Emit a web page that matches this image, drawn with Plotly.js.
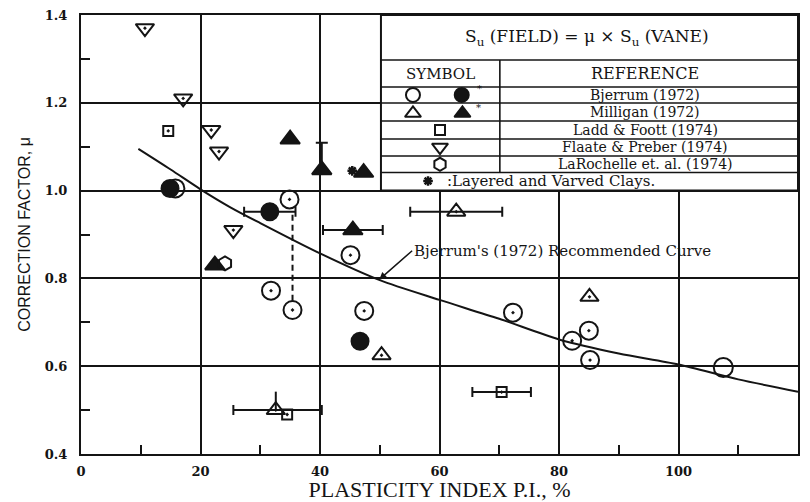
<!DOCTYPE html>
<html>
<head>
<meta charset="utf-8">
<script src="https://cdn.plot.ly/plotly-3.0.1.min.js"></script>
<style>
  html, body { margin: 0; padding: 0; background: #fff; }
  #chart { width: 810px; height: 502px; }
</style>
</head>
<body>
<div id="chart"></div>
<script>
// Bjerrum's (1972) recommended correction curve
const curvePI = [9.6, 15, 20, 25, 30, 40, 50, 60, 70, 80, 90, 100, 110, 120];
const curveMu = [1.095, 1.048, 1.003, 0.962, 0.926, 0.857, 0.796, 0.751, 0.708, 0.661, 0.629, 0.604, 0.570, 0.542];

// Bjerrum (1972) - open circles
const bjOpenPI = [15.8, 34.9, 31.8, 35.4, 45.1, 47.4, 72.3, 82.2, 85.0, 85.2];
const bjOpenMu = [1.005, 0.980, 0.772, 0.728, 0.853, 0.726, 0.722, 0.658, 0.681, 0.614];
const bjPlainPI = [107.5];
const bjPlainMu = [0.597];
// Bjerrum (1972) - filled circles (layered / varved clays)
const bjFilledPI = [14.9, 46.7];
const bjFilledMu = [1.005, 0.657];
const bjFilledRangePI = [31.6];
const bjFilledRangeMu = [0.952];
const bjFilledRangeErr = [4.3];
// vertical dashed range at PI = 35.4
const bjRangePI = [35.4, 35.4];
const bjRangeMu = [0.945, 0.746];

// Milligan (1972) - open triangles
const milOpenPI = [85.1, 50.3];
const milOpenMu = [0.758, 0.625];
const milOpenBarPI = [62.8];
const milOpenBarMu = [0.952];
const milOpenBarErr = [7.7];
const milOpenBoxPI = [32.6];
const milOpenBoxMu = [0.500];
const milOpenBoxErrPlus = [7.7];
const milOpenBoxErrMinus = [7.1];
const milOpenBoxErrUp = [0.042];
// Milligan (1972) - filled triangles
const milFilledPI = [35.0, 47.3, 22.4];
const milFilledMu = [1.117, 1.041, 0.830];
const milFilledUpPI = [40.3];
const milFilledUpMu = [1.047];
const milFilledUpErr = [0.062];
const milFilledBarPI = [45.5];
const milFilledBarMu = [0.910];
const milFilledBarErr = [5.0];

// Ladd & Foott (1974) - squares
const laddPI = [14.6, 34.5];
const laddMu = [1.136, 0.490];
const laddBarPI = [70.4];
const laddBarMu = [0.541];
const laddBarErr = [4.9];

// Flaate & Preber (1974) - inverted triangles
const flaatePI = [10.7, 17.1, 21.8, 23.1, 25.5];
const flaateMu = [1.370, 1.210, 1.138, 1.089, 0.910];

// LaRochelle et al. (1974) - hexagons
const laroPI = [24.1];
const laroMu = [0.834];

// layered and varved clay mark
const layeredPI = [45.4];
const layeredMu = [1.045];

// key table text
const keyTitle = 'S<sub>u</sub> (FIELD) = μ × S<sub>u</sub> (VANE)';
const keyRefs = ['Bjerrum (1972)', 'Milligan (1972)', 'Ladd &amp; Foott (1974)',
                 'Flaate &amp; Preber (1974)', 'LaRochelle et. al. (1974)'];

const INK = '#141414';
const SERIF = 'DejaVu Serif, Liberation Serif, serif';

function pts(x, y, symbol, size, extra) {
  return Object.assign({
    type: 'scatter', mode: 'markers', x: x, y: y, showlegend: false,
    hoverinfo: 'skip', cliponaxis: false,
    marker: { symbol: symbol, size: size, color: INK, line: { color: INK, width: 2 } }
  }, extra || {});
}
function hbar(plus, minus) {
  return { type: 'data', symmetric: minus === undefined, array: plus, arrayminus: minus,
           color: INK, thickness: 2, width: 5 };
}

const traces = [
  { type: 'scatter', mode: 'lines', x: curvePI, y: curveMu, showlegend: false, hoverinfo: 'skip',
    line: { color: INK, width: 2, shape: 'spline', smoothing: 0.8 } },
  { type: 'scatter', mode: 'lines', x: bjRangePI, y: bjRangeMu, showlegend: false, hoverinfo: 'skip',
    line: { color: INK, width: 2, dash: '6px,4px' } },

  pts(bjFilledPI, bjFilledMu, 'circle', 17),
  pts(bjFilledRangePI, bjFilledRangeMu, 'circle', 17, { error_x: hbar(bjFilledRangeErr) }),
  pts(bjOpenPI, bjOpenMu, 'circle-open-dot', 18),
  pts(bjPlainPI, bjPlainMu, 'circle-open', 19),

  pts(milOpenPI, milOpenMu, 'triangle-up-open-dot', 16),
  pts(milOpenBarPI, milOpenBarMu, 'triangle-up-open-dot', 16, { error_x: hbar(milOpenBarErr) }),
  pts(milOpenBoxPI, milOpenBoxMu, 'triangle-up-open-dot', 16,
      { error_x: hbar(milOpenBoxErrPlus, milOpenBoxErrMinus),
        error_y: { type: 'data', symmetric: false, array: milOpenBoxErrUp, arrayminus: [0],
                   color: INK, thickness: 2, width: 0 } }),
  pts(milFilledPI, milFilledMu, 'triangle-up', 17),
  pts(milFilledUpPI, milFilledUpMu, 'triangle-up', 17,
      { error_y: { type: 'data', symmetric: false, array: milFilledUpErr, arrayminus: [0],
                   color: INK, thickness: 2, width: 6 } }),
  pts(milFilledBarPI, milFilledBarMu, 'triangle-up', 17, { error_x: hbar(milFilledBarErr) }),

  pts(laddPI, laddMu, 'square-open-dot', 10),
  pts(laddBarPI, laddBarMu, 'square-open-dot', 10, { error_x: hbar(laddBarErr) }),

  pts(flaatePI, flaateMu, 'triangle-down-open-dot', 16),
  pts(laroPI, laroMu, 'hexagon-open', 14),
  pts(layeredPI, layeredMu, 'asterisk-open', 8, { marker: { symbol: 'asterisk-open', size: 8,
      color: INK, line: { color: INK, width: 2.5 } } })
];

// symbols in the key table (paper-fraction axes)
function key(x, y, symbol, size, lw) {
  return { type: 'scatter', mode: 'markers', x: [x], y: [y], xaxis: 'x2', yaxis: 'y2',
           showlegend: false, hoverinfo: 'skip', cliponaxis: false,
           marker: { symbol: symbol, size: size, color: INK, line: { color: INK, width: lw || 2 } } };
}
traces.push(
  key(0.463, 0.818, 'circle-open', 14),
  key(0.531, 0.818, 'circle', 14),
  key(0.463, 0.776, 'triangle-up-open', 14),
  key(0.532, 0.776, 'triangle-up', 14),
  key(0.5007, 0.738, 'square-open', 10),
  key(0.5007, 0.699, 'triangle-down-open', 14),
  key(0.5007, 0.660, 'hexagon-open', 13),
  key(0.484, 0.622, 'asterisk-open', 8, 2.5)
);

// key table frame, in axis units so it sits above the grid and below the markers
const tL = 50.2, tR = 120, tT = 1.4, tB = 1.0, tCol = 70.1;
const rowLines = [1.2975, 1.236, 1.1995, 1.1585, 1.1175, 1.0788, 1.0412];
const shapes = [
  { type: 'rect', xref: 'x', yref: 'y', x0: tL, x1: tR, y0: tB, y1: tT,
    fillcolor: '#ffffff', line: { color: INK, width: 2 }, layer: 'between' }
];
rowLines.forEach(y => shapes.push({ type: 'line', xref: 'x', yref: 'y',
  x0: tL, x1: tR, y0: y, y1: y, line: { color: INK, width: 1.6 }, layer: 'between' }));
shapes.push({ type: 'line', xref: 'x', yref: 'y', x0: tCol, x1: tCol,
  y0: rowLines[6], y1: rowLines[0], line: { color: INK, width: 1.6 }, layer: 'between' });

function label(x, y, text, size, xanchor) {
  return { xref: 'paper', yref: 'paper', x: x, y: y, text: text, showarrow: false,
           xanchor: xanchor || 'center', yanchor: 'middle',
           font: { family: SERIF, size: size, color: INK } };
}
const refY = [0.8178, 0.779, 0.738, 0.699, 0.6600];
const annotations = [
  label(0.7057, 0.9487, keyTitle, 17),
  label(0.5014, 0.8667, 'SYMBOL', 15),
  label(0.787, 0.8667, 'REFERENCE', 16),
  label(0.508, 0.622, ':Layered and Varved Clays.', 15, 'left'),
  label(0.556, 0.833, '*', 10),
  label(0.555, 0.790, '*', 10),
  { x: 49.9, y: 0.797, text: "Bjerrum's (1972) Recommended Curve", showarrow: true,
    ax: 33, ay: -29, xanchor: 'left', yanchor: 'middle',
    arrowhead: 2, arrowsize: 1, arrowwidth: 1.5, arrowcolor: INK, standoff: 0,
    font: { family: SERIF, size: 15, color: INK } }
];
keyRefs.forEach((t, i) => annotations.push(label(0.787, refY[i], t, 14)));

const layout = {
  width: 810, height: 502,
  margin: { l: 81, r: 12, t: 15, b: 48 },
  paper_bgcolor: '#ffffff', plot_bgcolor: '#ffffff',
  showlegend: false,
  xaxis: {
    range: [0, 120], tick0: 0, dtick: 20, zeroline: false,
    showgrid: true, gridcolor: INK, gridwidth: 2,
    showline: true, linecolor: INK, linewidth: 2, mirror: true,
    ticks: '', ticklabelstandoff: 4,
    tickfont: { family: SERIF, size: 13, color: INK, weight: 'bold' },
    minor: { dtick: 10, ticks: 'inside', ticklen: 9, tickwidth: 2, tickcolor: INK, showgrid: false },
    title: { text: 'PLASTICITY INDEX P.I., %', standoff: 5,
             font: { family: 'Liberation Serif, Times New Roman, serif', size: 22, color: INK } }
  },
  yaxis: {
    range: [0.4, 1.4], tick0: 0.4, dtick: 0.2, tickformat: '.1f', zeroline: false,
    showgrid: true, gridcolor: INK, gridwidth: 2,
    showline: true, linecolor: INK, linewidth: 2, mirror: true,
    ticks: '', ticklabelstandoff: 9,
    tickfont: { family: SERIF, size: 13, color: INK, weight: 'bold' },
    minor: { dtick: 0.1, ticks: 'inside', ticklen: 9, tickwidth: 2, tickcolor: INK, showgrid: false },
    title: { text: 'CORRECTION FACTOR, μ', standoff: 10,
             font: { family: 'Liberation Sans, Arial, sans-serif', size: 16, color: INK } }
  },
  xaxis2: { overlaying: 'x', range: [0, 1], visible: false, fixedrange: true },
  yaxis2: { overlaying: 'y', range: [0, 1], visible: false, fixedrange: true },
  shapes: shapes,
  annotations: annotations
};

Plotly.newPlot('chart', traces, layout, { staticPlot: true, displayModeBar: false });
</script>
</body>
</html>
